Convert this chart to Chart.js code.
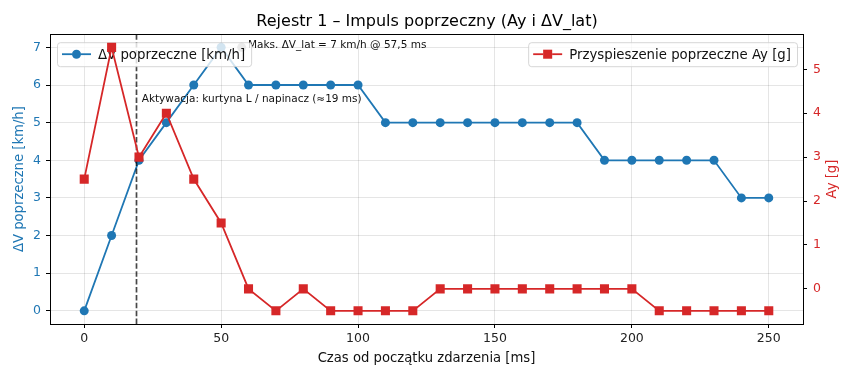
<!DOCTYPE html>
<html>
<head>
<meta charset="utf-8">
<script src="https://cdn.jsdelivr.net/npm/chart.js@4.4.1/dist/chart.umd.min.js"></script>
<style>
  html, body { margin: 0; padding: 0; background: #fff; }
  #wrap { width: 854px; height: 380px; }
</style>
</head>
<body>
<div id="wrap"><canvas id="impulseChart" width="854" height="380"></canvas></div>
<script>
// Data
const timeMs = [0, 10, 20, 30, 40, 50, 60, 70, 80, 90, 100, 110, 120, 130, 140, 150, 160, 170, 180, 190, 200, 210, 220, 230, 240, 250];
const deltaV = [0, 2, 4, 5, 6, 7, 6, 6, 6, 6, 6, 5, 5, 5, 5, 5, 5, 5, 5, 4, 4, 4, 4, 4, 3, 3];
const ayG = [2.5, 5.5, 3.0, 4.0, 2.5, 1.5, 0, -0.5, 0, -0.5, -0.5, -0.5, -0.5, 0, 0, 0, 0, 0, 0, 0, 0, -0.5, -0.5, -0.5, -0.5, -0.5];

const xTicks = [0, 50, 100, 150, 200, 250];
const dvTicks = [0, 1, 2, 3, 4, 5, 6, 7];
const ayTicks = [0, 1, 2, 3, 4, 5];

const activationMs = 19;
const activationText = 'Aktywacja: kurtyna L / napinacz (≈19 ms)';
const peakPoint = [57.5, 7];
const peakText = 'Maks. ΔV_lat = 7 km/h @ 57,5 ms';

const BLUE = '#1f77b4';
const RED = '#d62728';
const FONT = "'DejaVu Sans', sans-serif";
const LEGEND_FONT = '13.3px ' + FONT;

Chart.defaults.font.family = FONT;
Chart.defaults.color = '#222';

function toPoints(xs, ys) {
  return xs.map((x, i) => ({ x: x, y: ys[i] }));
}

function drawLegendBox(ctx, x, y, w, h, ds, text) {
  ctx.save();
  ctx.fillStyle = 'rgba(255,255,255,0.8)';
  ctx.strokeStyle = 'rgba(204,204,204,0.8)';
  ctx.lineWidth = 1;
  ctx.beginPath();
  ctx.roundRect(x + 0.5, y + 0.5, w, h, 3);
  ctx.fill();
  ctx.stroke();
  const cy = y + h / 2;
  ctx.strokeStyle = ds.borderColor;
  ctx.lineWidth = ds.borderWidth;
  ctx.beginPath();
  ctx.moveTo(x + 5, cy);
  ctx.lineTo(x + 34, cy);
  ctx.stroke();
  Chart.helpers.drawPoint(ctx, {
    pointStyle: ds.pointStyle,
    radius: ds.pointRadius,
    borderWidth: 0
  }, x + 19.5, cy);
  ctx.fillStyle = ds.borderColor;
  ctx.fill();
  ctx.fillStyle = '#111';
  ctx.font = LEGEND_FONT;
  ctx.textBaseline = 'middle';
  ctx.textAlign = 'left';
  ctx.fillText(text, x + 41, cy + 1);
  ctx.restore();
}

const overlayPlugin = {
  id: 'overlay',
  afterDatasetDraw(chart, args) {
    if (args.index !== 2) return;
    // ax1 layer: activation line, notes and left legend
    const ctx = chart.ctx;
    const ca = chart.chartArea;
    const xs = chart.scales.x;
    const ys = chart.scales.y;
    ctx.save();
    const ax = Math.round(xs.getPixelForValue(activationMs)) + 0.5;
    ctx.strokeStyle = 'rgba(0,0,0,0.72)';
    ctx.lineWidth = 1.7;
    ctx.setLineDash([5.5, 2.4]);
    ctx.beginPath();
    ctx.moveTo(ax, ca.top);
    ctx.lineTo(ax, ca.bottom);
    ctx.stroke();
    ctx.setLineDash([]);
    ctx.fillStyle = '#111';
    ctx.font = '10.5px ' + FONT;
    ctx.textBaseline = 'alphabetic';
    ctx.fillText(activationText, xs.getPixelForValue(activationMs + 2), ys.getPixelForValue(5.55));
    ctx.fillText(peakText, xs.getPixelForValue(peakPoint[0] + 2.3), ys.getPixelForValue(7) + 1);
    ctx.restore();
    const ds = chart.data.datasets[0];
    ctx.font = LEGEND_FONT;
    const w = ctx.measureText(ds.label).width + 47;
    drawLegendBox(ctx, ca.left + 7, ca.top + 8, w, 24, ds, ds.label);
  },
  afterDatasetsDraw(chart) {
    const ctx = chart.ctx;
    const ca = chart.chartArea;
    const ds = chart.data.datasets[1];
    ctx.font = LEGEND_FONT;
    const w = ctx.measureText(ds.label).width + 47;
    drawLegendBox(ctx, ca.right - 6 - w, ca.top + 8, w, 24, ds, ds.label);
    // frame
    ctx.save();
    ctx.strokeStyle = '#000';
    ctx.lineWidth = 1;
    ctx.strokeRect(Math.round(ca.left) + 0.5, Math.round(ca.top) + 0.5, Math.round(ca.right - ca.left), Math.round(ca.bottom - ca.top));
    // right axis title (reads bottom to top)
    ctx.translate(833, (ca.top + ca.bottom) / 2);
    ctx.rotate(-Math.PI / 2);
    ctx.fillStyle = RED;
    ctx.font = '13.2px ' + FONT;
    ctx.textAlign = 'center';
    ctx.textBaseline = 'middle';
    ctx.fillText('Ay [g]', 0, 0);
    ctx.restore();
  }
};

const ctx = document.getElementById('impulseChart');
new Chart(ctx, {
  type: 'line',
  data: {
    datasets: [{
      label: 'ΔV poprzeczne [km/h]',
      data: toPoints(timeMs, deltaV),
      yAxisID: 'y',
      borderColor: BLUE,
      backgroundColor: BLUE,
      borderWidth: 1.8,
      pointStyle: 'circle',
      pointRadius: 4.5,
      pointBorderWidth: 0,
      order: 2
    }, {
      label: 'Przyspieszenie poprzeczne Ay [g]',
      data: toPoints(timeMs, ayG),
      yAxisID: 'y1',
      borderColor: RED,
      backgroundColor: RED,
      borderWidth: 1.8,
      pointStyle: 'rect',
      pointRadius: 6.4,
      pointBorderWidth: 0,
      order: 0
    }, {
      label: 'peak',
      data: [{ x: peakPoint[0], y: peakPoint[1] }],
      yAxisID: 'y',
      showLine: false,
      borderColor: 'rgba(140,140,140,0.9)',
      backgroundColor: 'rgba(140,140,140,0.9)',
      pointRadius: 4.5,
      pointBorderWidth: 0,
      order: 1
    }]
  },
  options: {
    responsive: false,
    animation: false,
    layout: { padding: 0, autoPadding: false },
    plugins: {
      legend: { display: false },
      tooltip: { enabled: false },
      title: {
        display: true,
        text: 'Rejestr 1 – Impuls poprzeczny (Ay i ΔV_lat)',
        color: '#000',
        font: { size: 16, weight: 'normal' },
        padding: { top: 12, bottom: 3 }
      }
    },
    scales: {
      x: {
        type: 'linear',
        min: -12.5,
        max: 262.5,
        afterBuildTicks: (s) => { s.ticks = xTicks.map(v => ({ value: v })); },
        afterFit: (s) => { s.height = 56; },
        ticks: { font: { size: 12.5 }, color: '#222', padding: 3, maxRotation: 0 },
        grid: { color: 'rgba(0,0,0,0.1)', tickColor: '#000', tickLength: 4 },
        border: { color: '#000' },
        title: { display: true, text: 'Czas od początku zdarzenia [ms]', color: '#111', font: { size: 13.2 }, padding: { top: 2, bottom: 14 } }
      },
      y: {
        position: 'left',
        min: -0.35,
        max: 7.35,
        afterBuildTicks: (s) => { s.ticks = dvTicks.map(v => ({ value: v })); },
        afterFit: (s) => { s.width = 50; },
        ticks: { font: { size: 12.5 }, color: BLUE, padding: 5 },
        grid: { color: 'rgba(0,0,0,0.1)', tickColor: '#000', tickLength: 4 },
        border: { color: '#000' },
        title: { display: true, text: 'ΔV poprzeczne [km/h]', color: BLUE, font: { size: 13.2 }, padding: { top: 12, bottom: 2 } }
      },
      y1: {
        position: 'right',
        min: -0.8,
        max: 5.8,
        afterBuildTicks: (s) => { s.ticks = ayTicks.map(v => ({ value: v })); },
        afterFit: (s) => { s.width = 51; },
        ticks: { font: { size: 12.5 }, color: RED, padding: 6 },
        grid: { drawOnChartArea: false, tickColor: '#000', tickLength: 4 },
        border: { color: '#000' }
      }
    }
  },
  plugins: [overlayPlugin]
});
</script>
</body>
</html>
